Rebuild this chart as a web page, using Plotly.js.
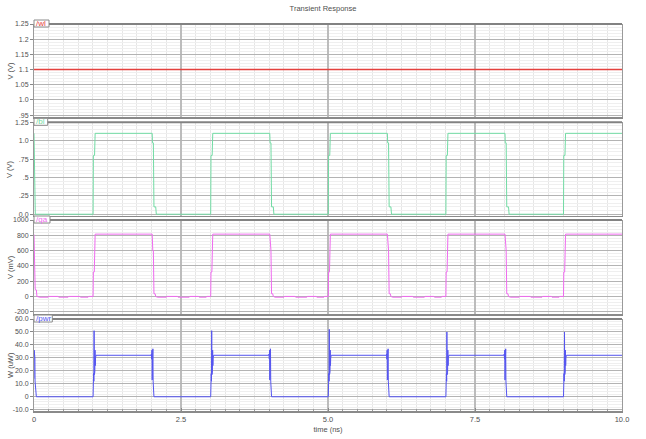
<!DOCTYPE html>
<html>
<head>
<meta charset="utf-8">
<script src="https://cdn.plot.ly/plotly-3.0.1.min.js"></script>
<style>html,body{margin:0;padding:0;background:#fff;}#chart{width:646px;height:439px;}</style>
</head>
<body>
<div id="chart"></div>
<script>
// ---------- data (time in ns) ----------
const time_wl = [0, 10];
const wl = [1.1, 1.1];

const time_bl = [
  0, 0.004, 0.008, 0.012, 0.016, 0.022,
  1.005, 1.01, 1.03, 1.04, 2.01, 2.015, 2.03, 2.04, 2.07, 2.08,
  3.005, 3.01, 3.03, 3.04, 4.01, 4.015, 4.03, 4.04, 4.07, 4.08,
  5.005, 5.01, 5.03, 5.04, 6.01, 6.015, 6.03, 6.04, 6.07, 6.08,
  7.005, 7.01, 7.03, 7.04, 8.01, 8.015, 8.03, 8.04, 8.07, 8.08,
  9.005, 9.01, 9.03, 9.04, 10
];
const bl = [
  1.1, 0.78, 0.3, 0.65, 0.05, 0,
  0, 0.8, 0.8, 1.1, 1.1, 0.97, 0.97, 0.1, 0.1, 0,
  0, 0.8, 0.8, 1.1, 1.1, 0.97, 0.97, 0.1, 0.1, 0,
  0, 0.8, 0.8, 1.1, 1.1, 0.97, 0.97, 0.1, 0.1, 0,
  0, 0.8, 0.8, 1.1, 1.1, 0.97, 0.97, 0.1, 0.1, 0,
  0, 0.8, 0.8, 1.1, 1.1
];

const time_qa = [
  0, 0.01, 0.02, 0.04, 0.05, 0.1, 0.24, 0.25, 0.41, 0.42, 0.58, 0.59, 0.78, 0.79, 0.92, 0.93,
  1.005, 1.01, 1.025, 1.04, 2.01, 2.02, 2.03, 2.04, 2.06, 2.07, 2.1, 2.25, 2.26, 2.44, 2.45, 2.64, 2.65, 2.8, 2.81, 2.93, 2.94,
  3.005, 3.01, 3.025, 3.04, 4.01, 4.02, 4.03, 4.04, 4.06, 4.07, 4.1, 4.25, 4.26, 4.44, 4.45, 4.64, 4.65, 4.8, 4.81, 4.93, 4.94,
  5.005, 5.01, 5.025, 5.04, 6.01, 6.02, 6.03, 6.04, 6.06, 6.07, 6.1, 6.25, 6.26, 6.44, 6.45, 6.64, 6.65, 6.8, 6.81, 6.93, 6.94,
  7.005, 7.01, 7.025, 7.04, 8.01, 8.02, 8.03, 8.04, 8.06, 8.07, 8.1, 8.25, 8.26, 8.44, 8.45, 8.64, 8.65, 8.8, 8.81, 8.93, 8.94,
  9.005, 9.01, 9.025, 9.04, 10
];
const qa = [
  810, 400, 90, 85, 0, -10, -10, 0, 0, -10, -10, 0, 0, -10, -10, 0,
  0, 320, 320, 815, 815, 600, 600, 35, 35, 0, -10, -10, 0, 0, -10, -10, 0, 0, -10, -10, 0,
  0, 320, 320, 815, 815, 600, 600, 35, 35, 0, -10, -10, 0, 0, -10, -10, 0, 0, -10, -10, 0,
  0, 320, 320, 815, 815, 600, 600, 35, 35, 0, -10, -10, 0, 0, -10, -10, 0, 0, -10, -10, 0,
  0, 320, 320, 815, 815, 600, 600, 35, 35, 0, -10, -10, 0, 0, -10, -10, 0, 0, -10, -10, 0,
  0, 320, 320, 815, 815
];

const time_pwr = [
  0, 0.003, 0.006, 0.009, 0.012, 0.015, 0.018, 0.021, 0.03, 0.04,
  1.005, 1.01, 1.014, 1.018, 1.022, 1.026, 1.03, 1.034, 1.038, 1.042, 1.046, 1.055,
  1.99, 1.998, 2.002, 2.006, 2.01, 2.014, 2.018, 2.022, 2.026, 2.032, 2.04,
  3.005, 3.01, 3.014, 3.018, 3.022, 3.026, 3.03, 3.034, 3.038, 3.042, 3.046, 3.055,
  3.99, 3.998, 4.002, 4.006, 4.01, 4.014, 4.018, 4.022, 4.026, 4.032, 4.04,
  5.005, 5.01, 5.014, 5.018, 5.022, 5.026, 5.03, 5.034, 5.038, 5.042, 5.046, 5.055,
  5.99, 5.998, 6.002, 6.006, 6.01, 6.014, 6.018, 6.022, 6.026, 6.032, 6.04,
  7.005, 7.01, 7.014, 7.018, 7.022, 7.026, 7.03, 7.034, 7.038, 7.042, 7.046, 7.055,
  7.99, 7.998, 8.002, 8.006, 8.01, 8.014, 8.018, 8.022, 8.026, 8.032, 8.04,
  9.005, 9.01, 9.014, 9.018, 9.022, 9.026, 9.03, 9.034, 9.038, 9.042, 9.046, 9.055,
  10
];
const pwr = [
  14, 36, 15, 34, 16, 30, 12, 10, 10, 0,
  0, 5, 18, 12, 51, 17, 40, 19, 36, 24, 30, 32,
  32, 33, 29, 36, 13, 35, 15, 37, 12, 3, 0,
  0, 5, 18, 12, 51, 17, 40, 19, 36, 24, 30, 32,
  32, 33, 29, 36, 13, 35, 15, 37, 12, 3, 0,
  0, 5, 18, 12, 52, 17, 40, 19, 36, 24, 30, 32,
  32, 33, 29, 36, 13, 35, 15, 37, 12, 3, 0,
  0, 5, 18, 12, 50, 17, 40, 19, 36, 24, 30, 32,
  32, 33, 29, 36, 13, 35, 15, 37, 12, 3, 0,
  0, 5, 18, 12, 50, 17, 40, 19, 36, 24, 30, 32,
  32
];

// tick labels
const xTickVals = [0, 2.5, 5, 7.5, 10];
const xTickText = ['0', '2.5', '5.0', '7.5', '10.0'];
const y1TickVals = [0.95, 1.0, 1.05, 1.1, 1.15, 1.2, 1.25];
const y1TickText = ['.95', '1.0', '1.05', '1.1', '1.15', '1.2', '1.25'];
const y2TickVals = [0, 0.25, 0.5, 0.75, 1.0, 1.25];
const y2TickText = ['0.0', '.25', '.5', '.75', '1.0', '1.25'];
const y3TickVals = [-200, 0, 200, 400, 600, 800, 1000];
const y3TickText = ['-200', '0', '200', '400', '600', '800', '1000'];
const y4TickVals = [-10, 0, 10, 20, 30, 40, 50, 60];
const y4TickText = ['-10.0', '0', '10.0', '20.0', '30.0', '40.0', '50.0', '60.0'];

const signalNames = ['/wl', '/bl', '/qa', '/pwr'];
const yTitles = ['V (V)', 'V (V)', 'V (mV)', 'W (uW)'];

// ---------- layout helpers (pixel geometry) ----------
const W = 646, H = 439, ML = 34, MR = 24, MT = 24, MB = 28;
const PW = W - ML - MR, PH = H - MT - MB;
const px2x = p => (p - ML) / PW;
const px2y = p => (H - MB - p) / PH;

const panels = [
  {top: 24, bot: 117, tab: 49},
  {top: 122.3, bot: 215.7, tab: 47.7},
  {top: 220, bot: 314, tab: 50},
  {top: 319, bot: 411, tab: 52.3}
];
const colors = ['#e4413e', '#72dba4', '#ef6bef', '#5555f0'];
const font = 'Liberation Sans, Arial, sans-serif';
const txt = '#505050';

const traces = [
  {x: time_wl, y: wl, xaxis: 'x', yaxis: 'y', mode: 'lines', line: {color: colors[0], width: 1.5}, name: '/wl'},
  {x: time_bl, y: bl, xaxis: 'x2', yaxis: 'y2', mode: 'lines', line: {color: colors[1], width: 1}, name: '/bl'},
  {x: time_qa, y: qa, xaxis: 'x3', yaxis: 'y3', mode: 'lines', line: {color: colors[2], width: 1}, name: '/qa'},
  {x: time_pwr, y: pwr, xaxis: 'x4', yaxis: 'y4', mode: 'lines', line: {color: colors[3], width: 1}, name: '/pwr'}
];

function xAxis(i) {
  const last = i === 4;
  return {
    anchor: i === 1 ? 'y' : 'y' + i,
    matches: i === 1 ? undefined : 'x',
    domain: [0, 1], range: [0, 10],
    tickmode: 'array', tickvals: xTickVals, ticktext: xTickText,
    showticklabels: last,
    ticks: last ? 'inside' : '', ticklen: 3, tickcolor: '#888',
    tickfont: {family: font, size: 7.5, color: txt},
    showline: true, linecolor: '#8a8a8a', linewidth: 1.5,
    showgrid: true, gridcolor: '#bcbcbc', gridwidth: 1.5,
    minor: {dtick: 0.25, tick0: 0, showgrid: true, gridcolor: '#e6e6e6', gridwidth: 1,
            ticks: last ? 'inside' : '', ticklen: 2, tickcolor: '#999'},
    zeroline: false, fixedrange: true,
    title: last ? {text: 'time (ns)', font: {family: font, size: 7.5, color: txt}, standoff: 4} : undefined
  };
}
function yAxis(i, vals, text, minorDt, minor0, range) {
  const p = panels[i - 1];
  return {
    anchor: i === 1 ? 'x' : 'x' + i,
    domain: [px2y(p.bot), px2y(p.top)],
    range: range,
    tickmode: 'array', tickvals: vals, ticktext: text,
    ticks: 'outside', ticklen: 3, tickcolor: '#888',
    tickfont: {family: font, size: 7, color: txt},
    showline: true, linecolor: '#9a9a9a', linewidth: 1, mirror: true,
    showgrid: true, gridcolor: '#b3b3b3', gridwidth: 1,
    minor: {dtick: minorDt, tick0: minor0, showgrid: true, gridcolor: '#efefef', gridwidth: 1},
    zeroline: false, fixedrange: true
  };
}

const shapes = [];
const annotations = [];
panels.forEach((p, k) => {
  shapes.push({type: 'rect', xref: 'paper', yref: 'paper', layer: 'above',
    x0: 0, x1: px2x(p.tab), y0: px2y(p.top + 3), y1: px2y(p.top - 4),
    fillcolor: '#ffffff', line: {color: '#8a8a8a', width: 1}});
  shapes.push({type: 'line', xref: 'paper', yref: 'paper', layer: 'above',
    x0: px2x(p.tab), x1: 1, y0: px2y(p.top), y1: px2y(p.top),
    line: {color: '#828282', width: 2}});
  annotations.push({xref: 'paper', yref: 'paper', x: px2x(35), y: px2y(p.top - 0.5),
    xanchor: 'left', yanchor: 'middle', showarrow: false, text: signalNames[k],
    font: {family: font, size: 8, color: colors[k]}, borderpad: 0});
  annotations.push({xref: 'paper', yref: 'paper', x: px2x(10), y: px2y((p.top + p.bot) / 2),
    xanchor: 'center', yanchor: 'middle', showarrow: false, textangle: -90, text: yTitles[k],
    font: {family: font, size: 7.5, color: txt}});
});

const layout = {
  width: W, height: H,
  margin: {l: ML, r: MR, t: MT, b: MB, pad: 0},
  paper_bgcolor: '#ffffff', plot_bgcolor: '#ffffff',
  showlegend: false,
  font: {family: font, size: 7.5, color: txt},
  title: {text: 'Transient Response', font: {family: font, size: 7.5, color: txt},
          x: 0.5, xref: 'container', y: 1 - 8.5 / H, yref: 'container', yanchor: 'middle'},
  xaxis: xAxis(1), xaxis2: xAxis(2), xaxis3: xAxis(3), xaxis4: xAxis(4),
  yaxis: yAxis(1, y1TickVals, y1TickText, 0.01, 0.95, [0.944, 1.25]),
  yaxis2: yAxis(2, y2TickVals, y2TickText, 0.05, 0, [-0.02, 1.25]),
  yaxis3: yAxis(3, y3TickVals, y3TickText, 40, 0, [-230, 1000]),
  yaxis4: yAxis(4, y4TickVals, y4TickText, 2, 0, [-11, 60]),
  shapes: shapes,
  annotations: annotations
};

Plotly.newPlot('chart', traces, layout, {displayModeBar: false, staticPlot: true});
</script>
</body>
</html>
